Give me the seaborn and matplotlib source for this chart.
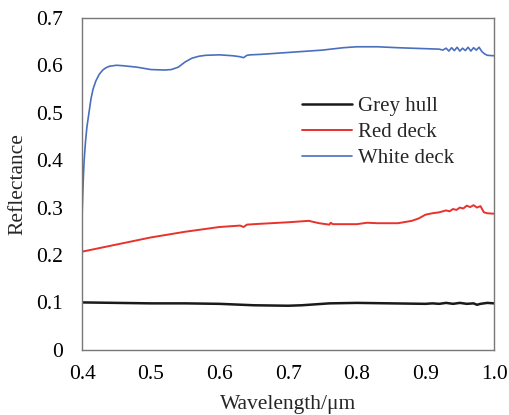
import matplotlib
matplotlib.use('Agg')
import matplotlib.pyplot as plt
import pandas as pd
import seaborn as sns

# wavelength / reflectance
white_x = [0.400, 0.401, 0.402, 0.403, 0.405, 0.407, 0.410, 0.413, 0.416, 0.420, 0.425,
           0.430, 0.435, 0.440, 0.450, 0.460, 0.480, 0.500, 0.520, 0.530, 0.540, 0.550,
           0.560, 0.570, 0.580, 0.600, 0.620, 0.630, 0.635, 0.640, 0.645, 0.660, 0.700,
           0.750, 0.780, 0.800, 0.830, 0.860, 0.900, 0.920, 0.925, 0.930, 0.934, 0.938,
           0.942, 0.946, 0.950, 0.954, 0.958, 0.962, 0.966, 0.970, 0.974, 0.978, 0.982,
           0.986, 0.990, 1.000]
white_y = [0.285, 0.330, 0.370, 0.400, 0.440, 0.470, 0.500, 0.530, 0.550, 0.567, 0.581,
           0.590, 0.595, 0.598, 0.600, 0.599, 0.596, 0.591, 0.590, 0.591, 0.596, 0.607,
           0.615, 0.619, 0.621, 0.622, 0.620, 0.618, 0.616, 0.621, 0.622, 0.623, 0.627,
           0.632, 0.637, 0.639, 0.639, 0.637, 0.635, 0.634, 0.632, 0.636, 0.630, 0.637,
           0.631, 0.638, 0.630, 0.636, 0.631, 0.638, 0.630, 0.637, 0.632, 0.638, 0.629,
           0.624, 0.621, 0.620]

red_x = [0.400, 0.450, 0.500, 0.550, 0.600, 0.630, 0.635, 0.640, 0.650, 0.700, 0.720,
         0.730, 0.745, 0.760, 0.762, 0.765, 0.780, 0.800, 0.815, 0.830, 0.860, 0.880,
         0.890, 0.900, 0.910, 0.920, 0.930, 0.935, 0.940, 0.945, 0.950, 0.955, 0.960,
         0.965, 0.970, 0.975, 0.980, 0.985, 0.990, 1.000]
red_y = [0.207, 0.222, 0.237, 0.249, 0.259, 0.262, 0.259, 0.264, 0.265, 0.269, 0.271,
         0.272, 0.267, 0.264, 0.268, 0.265, 0.265, 0.265, 0.268, 0.267, 0.267, 0.272,
         0.277, 0.285, 0.288, 0.290, 0.294, 0.292, 0.297, 0.295, 0.300, 0.298, 0.304,
         0.301, 0.305, 0.300, 0.303, 0.290, 0.288, 0.287]

grey_x = [0.400, 0.450, 0.500, 0.550, 0.600, 0.650, 0.700, 0.720, 0.750, 0.760, 0.800,
          0.850, 0.900, 0.910, 0.920, 0.930, 0.940, 0.950, 0.960, 0.970, 0.975, 0.980,
          0.990, 1.000]
grey_y = [0.100, 0.099, 0.098, 0.098, 0.097, 0.094, 0.093, 0.094, 0.097, 0.098, 0.099,
          0.098, 0.097, 0.098, 0.097, 0.099, 0.097, 0.099, 0.097, 0.098, 0.095, 0.097,
          0.099, 0.098]

sns.set_style('white')
plt.rcParams['font.family'] = ['Liberation Serif', 'DejaVu Serif']

fig = plt.figure(figsize=(5.1, 4.15), dpi=100)
ax = fig.add_axes([0.161, 0.157, 0.808, 0.800])

sns.lineplot(x=grey_x, y=grey_y, ax=ax, color='#1a1a1a', linewidth=1.8, label='Grey hull')
sns.lineplot(x=red_x, y=red_y, ax=ax, color='#e8322c', linewidth=1.4, label='Red deck')
sns.lineplot(x=white_x, y=white_y, ax=ax, color='#4a6fbf', linewidth=1.2, label='White deck')

ax.set_xlim(0.4, 1.0)
ax.set_ylim(0, 0.7)
ax.set_xticks([0.4, 0.5, 0.6, 0.7, 0.8, 0.9, 1.0])
ax.set_xticklabels(['0.4', '0.5', '0.6', '0.7', '0.8', '0.9', '1.0'])
ax.set_yticks([0, 0.1, 0.2, 0.3, 0.4, 0.5, 0.6, 0.7])
ax.set_yticklabels(['0', '0.1', '0.2', '0.3', '0.4', '0.5', '0.6', '0.7'])
ax.tick_params(direction='in', length=4, width=1, colors='#555555', labelcolor='black',
               labelsize=15.5)
ax.tick_params(axis='x', pad=11)
ax.tick_params(axis='y', pad=14)
for s in ax.spines.values():
    s.set_color('#777777')
    s.set_linewidth(1)

ax.set_xlabel('Wavelength/μm', fontsize=15.5, labelpad=8)
ax.set_ylabel('Reflectance', fontsize=15.5, labelpad=6)

ax.legend(loc='center left', bbox_to_anchor=(0.513, 0.655), frameon=False, fontsize=15,
          handlelength=2.4, handletextpad=0.3, labelspacing=0.3, borderaxespad=0)

fig.savefig('out.png', dpi=100)
